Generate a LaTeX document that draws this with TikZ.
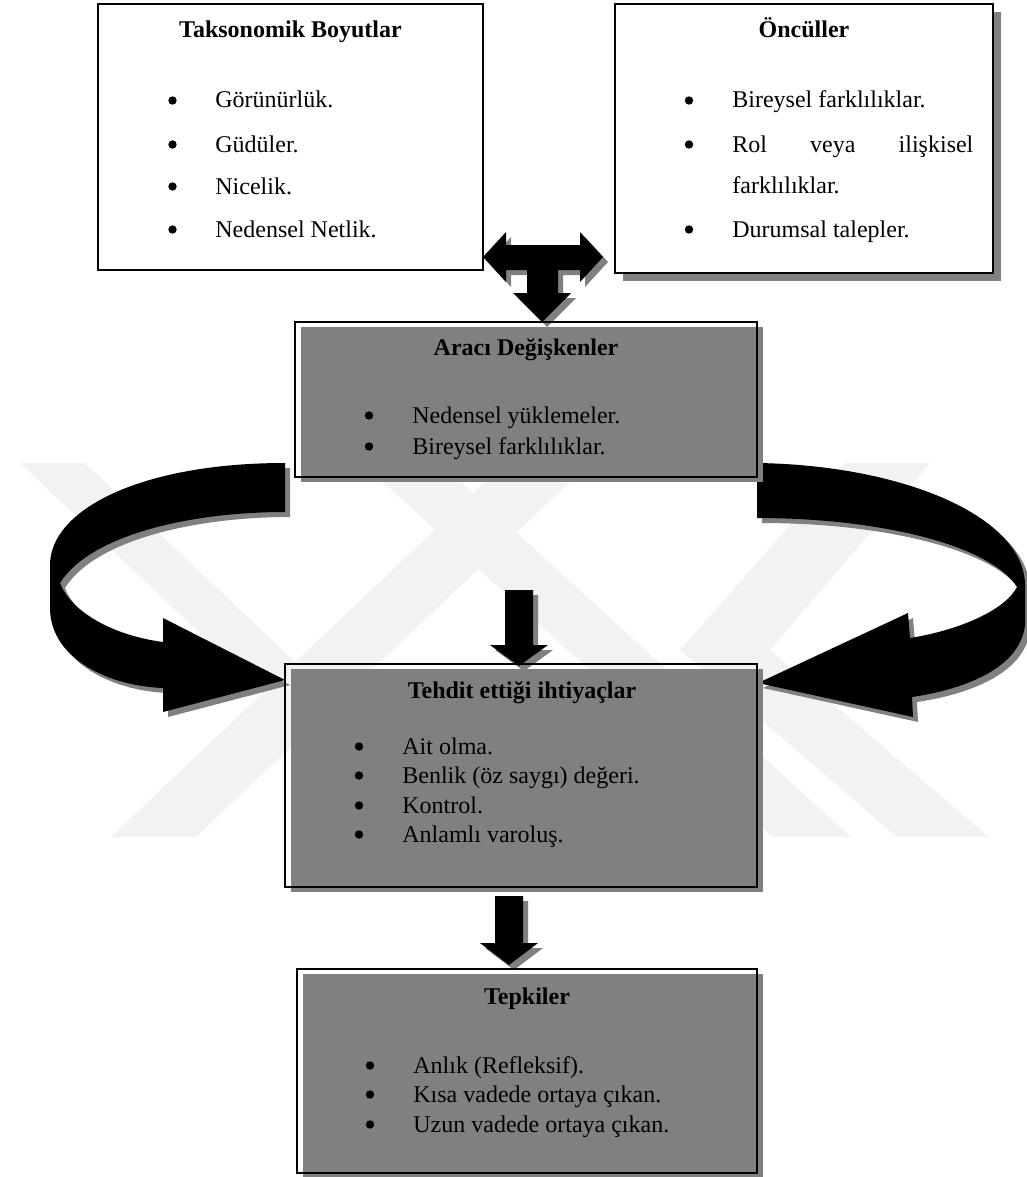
\documentclass[tikz,border=0pt]{standalone}
\usepackage{fontspec}
\setmainfont{Liberation Serif}
\usetikzlibrary{shadows}

\begin{document}
\begin{tikzpicture}
  [
    x=0.5pt, y=-0.5pt,
    every node/.style={font=\fontsize{12}{14}\selectfont, inner sep=0pt},
    head/.style={anchor=base, font=\fontsize{12}{14}\selectfont\bfseries},
    itm/.style={anchor=base west},
    plainbox/.style={draw, fill=white, line width=0.6pt},
    shadebox/.style={draw, fill=white, line width=0.6pt,
      copy shadow={shadow xshift=4pt, shadow yshift=-4pt, fill=black!50, draw=none}},
    greybox/.style={draw, line width=0.6pt,
      copy shadow={shadow xshift=3pt, shadow yshift=-2.5pt, fill=black!50, draw=none}},
    blockarrow/.style={fill=black,
      copy shadow={shadow xshift=2.5pt, shadow yshift=-2.5pt, fill=black!50, draw=none}},
    wmark/.style={fill=black!5},
  ]
  \useasboundingbox (0,0) rectangle (1027,1177);

  % watermark
  \fill [wmark] (20,463) -- (85,463) -- (480,837) -- (415,837) -- cycle;
  \fill [wmark] (111,837) -- (196,837) -- (590,463) -- (505,463) -- cycle;
  \fill [wmark] (362,463) -- (440,463) -- (851,837) -- (773,837) -- cycle;
  \fill [wmark] (845,463) -- (930,463) -- (770,650) -- (989,837) -- (897,837) -- (680,650) -- cycle;

  % block arrows
  \fill [blockarrow] (483,257) -- (506,232) -- (506,245) -- (580,245) -- (580,232) -- (603,257)
    -- (580,282) -- (580,270) -- (558,270) -- (558,293) -- (571,293) -- (542,322) -- (513,293)
    -- (527,293) -- (527,270) -- (506,270) -- (506,282) -- cycle;
  \fill [blockarrow] (505,590) -- (533,590) -- (533,645) -- (548,645) -- (519,666) -- (490,645) -- (505,645) -- cycle;
  \fill [blockarrow] (495,896) -- (523,896) -- (523,943) -- (538,943) -- (509,965) -- (480,943) -- (495,943) -- cycle;

  % curved arrows
  \fill [blockarrow] (285,463) .. controls (140,463) and (50,510) .. (50,565) -- (50,610)
    .. controls (52,660) and (110,686) .. (163,688) -- (163,712) -- (285,680) -- (163,618) -- (163,642)
    .. controls (110,635) and (70,610) .. (60,583) .. controls (90,535) and (190,512) .. (285,512) -- cycle;
  \fill [blockarrow] (757,463) .. controls (900,465) and (1024,515) .. (1025,585) -- (1025,625)
    .. controls (1020,670) and (960,690) .. (912,697) -- (913,717) -- (758,683) -- (908,613) -- (910,638)
    .. controls (960,630) and (1005,610) .. (1017,587) .. controls (990,545) and (880,518) .. (757,518) -- cycle;

  % Taksonomik Boyutlar
  \node [plainbox, minimum width=192.5pt, minimum height=133pt] (takson) at (290.5,137) {};
  \node [head] (taksonbaslik) at (290.5,38) {Taksonomik Boyutlar};
  \node [itm] (takson1) at (215,108) {Görünürlük.};
  \node [itm] (takson2) at (215,152) {Güdüler.};
  \node [itm] (takson3) at (215,194) {Nicelik.};
  \node [itm] (takson4) at (215,237) {Nedensel Netlik.};
  \fill (172.5,100.5) circle [radius=2.1pt] (172.5,144.5) circle [radius=2.1pt]
    (172.5,186.5) circle [radius=2.1pt] (172.5,229.5) circle [radius=2.1pt];

  % Öncüller
  \node [shadebox, minimum width=189pt, minimum height=134.5pt] (oncul) at (804,138.5) {};
  \node [head] (onculbaslik) at (804,38) {Öncüller};
  \node [itm] (oncul1) at (732,108) {Bireysel farklılıklar.};
  \node [itm] (oncul2) at (732,152) {\makebox[120.5pt]{Rol\hfill veya\hfill ilişkisel}};
  \node [itm] (oncul2b) at (732,193) {farklılıklar.};
  \node [itm] (oncul3) at (732,237) {Durumsal talepler.};
  \fill (689,100.5) circle [radius=2.1pt] (689,144.5) circle [radius=2.1pt]
    (689,229.5) circle [radius=2.1pt];

  % Aracı Değişkenler
  \node [greybox, minimum width=231pt, minimum height=77.5pt] (araci) at (526,399.5) {};
  \node [head] (aracibaslik) at (526,355) {Aracı Değişkenler};
  \node [itm] (araci1) at (412,423) {Nedensel yüklemeler.};
  \node [itm] (araci2) at (412,454) {Bireysel farklılıklar.};
  \fill (369,415.5) circle [radius=2.1pt] (369,446.5) circle [radius=2.1pt];

  % Tehdit ettiği ihtiyaçlar
  \node [greybox, minimum width=236pt, minimum height=111.5pt] (tehdit) at (521,775.5) {};
  \node [head] (tehditbaslik) at (522,698) {Tehdit ettiği ihtiyaçlar};
  \node [itm] (tehdit1) at (402,754) {Ait olma.};
  \node [itm] (tehdit2) at (402,783) {Benlik (öz saygı) değeri.};
  \node [itm] (tehdit3) at (402,813) {Kontrol.};
  \node [itm] (tehdit4) at (402,842) {Anlamlı varoluş.};
  \fill (359,746.5) circle [radius=2.1pt] (359,775.5) circle [radius=2.1pt]
    (359,805.5) circle [radius=2.1pt] (359,834.5) circle [radius=2.1pt];

  % Tepkiler
  \node [greybox, minimum width=230pt, minimum height=102pt] (tepki) at (527,1071) {};
  \node [head] (tepkibaslik) at (527,1004) {Tepkiler};
  \node [itm] (tepki1) at (413,1073) {Anlık (Refleksif).};
  \node [itm] (tepki2) at (413,1102) {Kısa vadede ortaya çıkan.};
  \node [itm] (tepki3) at (413,1132) {Uzun vadede ortaya çıkan.};
  \fill (370,1065.5) circle [radius=2.1pt] (370,1094.5) circle [radius=2.1pt]
    (370,1124.5) circle [radius=2.1pt];

\end{tikzpicture}
\end{document}
